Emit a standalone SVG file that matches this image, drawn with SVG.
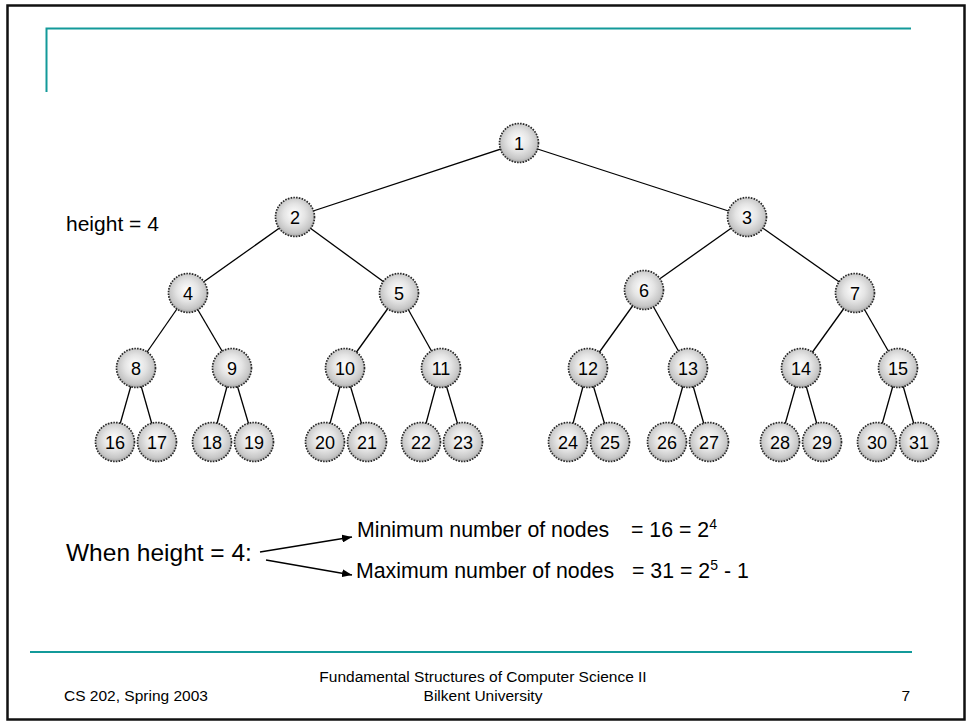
<svg xmlns="http://www.w3.org/2000/svg" width="967" height="723" viewBox="0 0 967 723">
  <defs>
    <radialGradient id="ball" cx="0.5" cy="0.45" r="0.55" fx="0.47" fy="0.42">
      <stop offset="0" stop-color="#ffffff"/>
      <stop offset="0.5" stop-color="#e4e4e4"/>
      <stop offset="0.85" stop-color="#c6c6c6"/>
      <stop offset="1" stop-color="#a4a4a4"/>
    </radialGradient>
    <marker id="arrow" viewBox="0 0 10 8" refX="10" refY="4" markerWidth="10" markerHeight="8" markerUnits="userSpaceOnUse" orient="auto">
      <path d="M0,0 L10,4 L0,8 Z" fill="#000"/>
    </marker>
    <circle id="disc" r="19.5" fill="url(#ball)" stroke="#2a2a2a" stroke-width="1.7" stroke-dasharray="1.6 1.2"/>
  </defs>
  <style>
    .lbl { font-family: "Liberation Sans", Arial, sans-serif; fill: #000; }
    .num { font-size: 18px; text-anchor: middle; }
    .edge { stroke: #000; stroke-width: 1.3; fill: none; }
    .foot { font-size: 15.5px; }
    .big { font-size: 21.3px; }
  </style>

  <!-- slide frame and teal rules -->
  <rect x="7.5" y="5.5" width="957" height="714" fill="#fff" stroke="#111" stroke-width="2.5"/>
  <path d="M46.5,92 V28.5 H911" fill="none" stroke="#139a9a" stroke-width="2"/>
  <line x1="30" y1="652" x2="912" y2="652" stroke="#139a9a" stroke-width="2"/>

  <!-- tree edges and annotation arrows -->
  <g id="connectors" class="edge">
    <line x1="519" y1="143" x2="295" y2="217"/>
    <line x1="519" y1="143" x2="747" y2="217"/>
    <line x1="295" y1="217" x2="188" y2="293"/>
    <line x1="295" y1="217" x2="399" y2="293"/>
    <line x1="747" y1="217" x2="644" y2="290"/>
    <line x1="747" y1="217" x2="855" y2="293"/>
    <line x1="188" y1="293" x2="136" y2="368"/>
    <line x1="188" y1="293" x2="232" y2="368"/>
    <line x1="399" y1="293" x2="345" y2="368"/>
    <line x1="399" y1="293" x2="441" y2="368"/>
    <line x1="644" y1="290" x2="588" y2="368"/>
    <line x1="644" y1="290" x2="688" y2="368"/>
    <line x1="855" y1="293" x2="801" y2="368"/>
    <line x1="855" y1="293" x2="898" y2="368"/>
    <line x1="136" y1="368" x2="115" y2="442"/>
    <line x1="136" y1="368" x2="157" y2="442"/>
    <line x1="232" y1="368" x2="212" y2="442"/>
    <line x1="232" y1="368" x2="254" y2="442"/>
    <line x1="345" y1="368" x2="325" y2="442"/>
    <line x1="345" y1="368" x2="367" y2="442"/>
    <line x1="441" y1="368" x2="421" y2="442"/>
    <line x1="441" y1="368" x2="463" y2="442"/>
    <line x1="588" y1="368" x2="568" y2="442"/>
    <line x1="588" y1="368" x2="610" y2="442"/>
    <line x1="688" y1="368" x2="667" y2="442"/>
    <line x1="688" y1="368" x2="709" y2="442"/>
    <line x1="801" y1="368" x2="780" y2="442"/>
    <line x1="801" y1="368" x2="822" y2="442"/>
    <line x1="898" y1="368" x2="877" y2="442"/>
    <line x1="898" y1="368" x2="919" y2="442"/>
    <line x1="260" y1="552" x2="352" y2="537" marker-end="url(#arrow)"/>
    <line x1="266" y1="560" x2="352" y2="575" marker-end="url(#arrow)"/>
  </g>

  <!-- tree nodes -->
  <g id="n1" transform="translate(519,143)"><use href="#disc"/><text class="lbl num" y="6.5">1</text></g>
  <g id="n2" transform="translate(295,217)"><use href="#disc"/><text class="lbl num" y="6.5">2</text></g>
  <g id="n3" transform="translate(747,217)"><use href="#disc"/><text class="lbl num" y="6.5">3</text></g>
  <g id="n4" transform="translate(188,293)"><use href="#disc"/><text class="lbl num" y="6.5">4</text></g>
  <g id="n5" transform="translate(399,293)"><use href="#disc"/><text class="lbl num" y="6.5">5</text></g>
  <g id="n6" transform="translate(644,290)"><use href="#disc"/><text class="lbl num" y="6.5">6</text></g>
  <g id="n7" transform="translate(855,293)"><use href="#disc"/><text class="lbl num" y="6.5">7</text></g>
  <g id="n8" transform="translate(136,368)"><use href="#disc"/><text class="lbl num" y="6.5">8</text></g>
  <g id="n9" transform="translate(232,368)"><use href="#disc"/><text class="lbl num" y="6.5">9</text></g>
  <g id="n10" transform="translate(345,368)"><use href="#disc"/><text class="lbl num" y="6.5">10</text></g>
  <g id="n11" transform="translate(441,368)"><use href="#disc"/><text class="lbl num" y="6.5">11</text></g>
  <g id="n12" transform="translate(588,368)"><use href="#disc"/><text class="lbl num" y="6.5">12</text></g>
  <g id="n13" transform="translate(688,368)"><use href="#disc"/><text class="lbl num" y="6.5">13</text></g>
  <g id="n14" transform="translate(801,368)"><use href="#disc"/><text class="lbl num" y="6.5">14</text></g>
  <g id="n15" transform="translate(898,368)"><use href="#disc"/><text class="lbl num" y="6.5">15</text></g>
  <g id="n16" transform="translate(115,442)"><use href="#disc"/><text class="lbl num" y="6.5">16</text></g>
  <g id="n17" transform="translate(157,442)"><use href="#disc"/><text class="lbl num" y="6.5">17</text></g>
  <g id="n18" transform="translate(212,442)"><use href="#disc"/><text class="lbl num" y="6.5">18</text></g>
  <g id="n19" transform="translate(254,442)"><use href="#disc"/><text class="lbl num" y="6.5">19</text></g>
  <g id="n20" transform="translate(325,442)"><use href="#disc"/><text class="lbl num" y="6.5">20</text></g>
  <g id="n21" transform="translate(367,442)"><use href="#disc"/><text class="lbl num" y="6.5">21</text></g>
  <g id="n22" transform="translate(421,442)"><use href="#disc"/><text class="lbl num" y="6.5">22</text></g>
  <g id="n23" transform="translate(463,442)"><use href="#disc"/><text class="lbl num" y="6.5">23</text></g>
  <g id="n24" transform="translate(568,442)"><use href="#disc"/><text class="lbl num" y="6.5">24</text></g>
  <g id="n25" transform="translate(610,442)"><use href="#disc"/><text class="lbl num" y="6.5">25</text></g>
  <g id="n26" transform="translate(667,442)"><use href="#disc"/><text class="lbl num" y="6.5">26</text></g>
  <g id="n27" transform="translate(709,442)"><use href="#disc"/><text class="lbl num" y="6.5">27</text></g>
  <g id="n28" transform="translate(780,442)"><use href="#disc"/><text class="lbl num" y="6.5">28</text></g>
  <g id="n29" transform="translate(822,442)"><use href="#disc"/><text class="lbl num" y="6.5">29</text></g>
  <g id="n30" transform="translate(877,442)"><use href="#disc"/><text class="lbl num" y="6.5">30</text></g>
  <g id="n31" transform="translate(919,442)"><use href="#disc"/><text class="lbl num" y="6.5">31</text></g>

  <!-- annotations -->
  <text class="lbl" x="66" y="231" font-size="21">height = 4</text>
  <text class="lbl" x="66" y="561" font-size="24.5">When height = 4:</text>
  <text class="lbl big" x="357" y="537">Minimum number of nodes</text>
  <text class="lbl big" x="631" y="537">= 16 = 2<tspan dy="-8" font-size="14">4</tspan></text>
  <text class="lbl big" x="356" y="578">Maximum number of nodes</text>
  <text class="lbl big" x="632" y="578">= 31 = 2<tspan dy="-8" font-size="14">5</tspan><tspan dy="8"> - 1</tspan></text>

  <!-- footer -->
  <text class="lbl foot" x="64" y="701">CS 202, Spring 2003</text>
  <text class="lbl foot" x="483" y="682" text-anchor="middle">Fundamental Structures of Computer Science II</text>
  <text class="lbl foot" x="483" y="701" text-anchor="middle">Bilkent University</text>
  <text class="lbl foot" x="910" y="701" text-anchor="end">7</text>
</svg>
